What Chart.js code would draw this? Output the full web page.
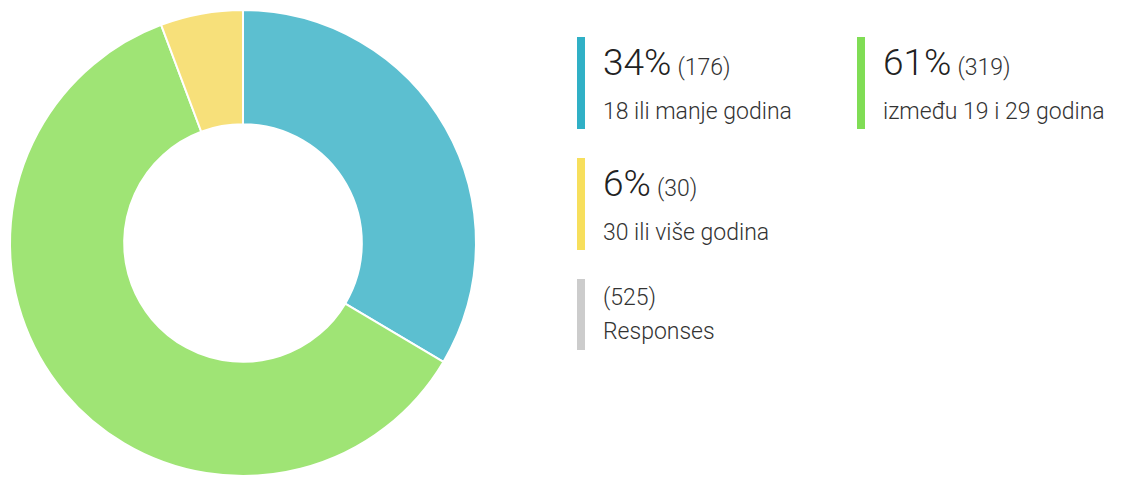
<!DOCTYPE html>
<html>
<head>
<meta charset="utf-8">
<script src="https://cdn.jsdelivr.net/npm/chart.js@4/dist/chart.umd.min.js"></script>
<style>
  html, body { margin:0; padding:0; background:#fff; width:1122px; height:477px; overflow:hidden; font-family: Roboto, "Noto Sans", sans-serif; }
  #wrap { position:absolute; left:0; top:0; width:488px; height:488px; }
  .item { position:absolute; padding-left:26px; color:#333; }
  .item .bar { position:absolute; left:0; top:0; width:8px; }
  .item .big { font-size:37px; font-weight:300; color:#222; line-height:44px; padding-top:4px; white-space:nowrap; }
  .item .cnt { font-size:23px; font-weight:300; color:#333; margin-left:6px; }
  .item .lbl { font-size:23px; font-weight:300; line-height:28px; margin-top:8px; white-space:nowrap; }
  .item .resp { font-size:23px; font-weight:300; line-height:32px; white-space:nowrap; }
</style>
</head>
<body>
<div id="wrap"><canvas id="c" width="488" height="488"></canvas></div>
<div id="legend"></div>
<script>
const categories = ["18 ili manje godina", "između 19 i 29 godina", "30 ili više godina"];
const counts = [176, 319, 30];
const percentLabels = ["34%", "61%", "6%"];
const totalResponses = 525;
const totalLabel = "Responses";
const sliceColors = ["#5cbfd0", "#9fe475", "#f7e07a"];
const legendColors = ["#30b0c6", "#80dd55", "#f7df5c"];
const totalColor = "#cccccc";

new Chart(document.getElementById('c'), {
  type: 'doughnut',
  data: {
    labels: categories,
    datasets: [{
      data: counts,
      backgroundColor: sliceColors,
      borderColor: '#ffffff',
      borderWidth: 2,
      hoverOffset: 0
    }]
  },
  options: {
    responsive: false,
    animation: false,
    cutout: '51%',
    layout: { padding: { left: 9, top: 9, right: 11, bottom: 11 } },
    plugins: { legend: { display: false }, tooltip: { enabled: false } }
  }
});

const positions = [[577, 37, 92], [857, 37, 92], [577, 158, 92]];
const legend = document.getElementById('legend');
categories.forEach((cat, i) => {
  const d = document.createElement('div');
  d.className = 'item';
  d.style.left = positions[i][0] + 'px';
  d.style.top = positions[i][1] + 'px';
  d.style.height = positions[i][2] + 'px';
  d.innerHTML = '<div class="bar" style="height:' + positions[i][2] + 'px;background:' + legendColors[i] + '"></div>' +
    '<div class="big">' + percentLabels[i] + '<span class="cnt">(' + counts[i] + ')</span></div>' +
    '<div class="lbl">' + cat + '</div>';
  legend.appendChild(d);
});
const t = document.createElement('div');
t.className = 'item';
t.style.left = '577px';
t.style.top = '279px';
t.style.height = '71px';
t.innerHTML = '<div class="bar" style="height:71px;background:' + totalColor + '"></div>' +
  '<div class="resp" style="padding-top:3px">(' + totalResponses + ')</div>' +
  '<div class="resp" style="margin-top:2px">' + totalLabel + '</div>';
legend.appendChild(t);
</script>
</body>
</html>
